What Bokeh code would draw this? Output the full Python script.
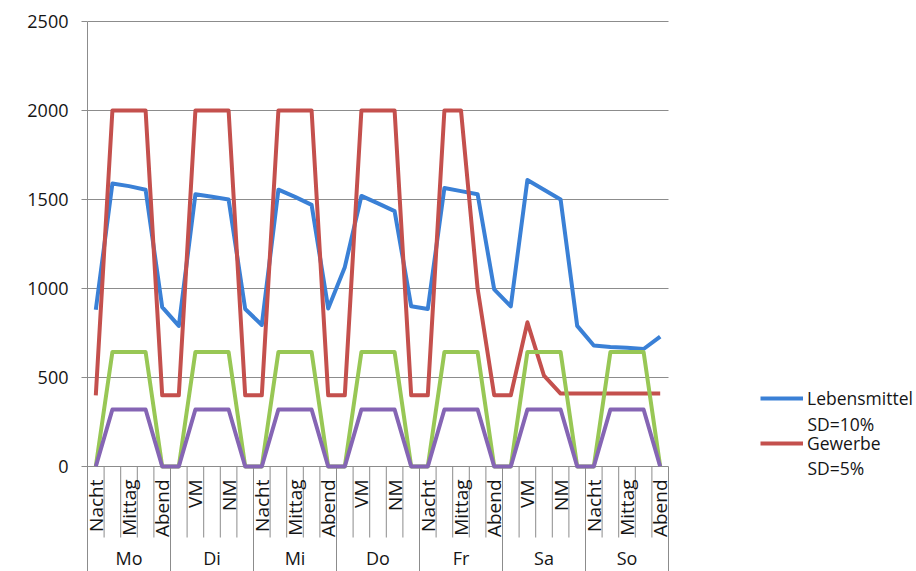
import numpy as np
from bokeh.plotting import figure
from bokeh.models import ColumnDataSource, FixedTicker, Legend, LegendItem, Range1d
from bokeh.core.properties import value
from bokeh.embed import file_html
from bokeh.resources import INLINE

# ---------------- data ----------------
days = ["Mo", "Di", "Mi", "Do", "Fr", "Sa", "So"]
slots = ["Nacht", "VM", "Mittag", "NM", "Abend"]
y_ticks = [0, 500, 1000, 1500, 2000, 2500]

lebensmittel = [
    880, 1590, 1575, 1555, 895,
    790, 1530, 1515, 1500, 885,
    795, 1555, 1515, 1470, 888,
    1120, 1520, 1478, 1435, 900,
    885, 1565, 1547, 1530, 995,
    900, 1610, 1555, 1500, 790,
    680, 672, 667, 660, 730,
]
gewerbe = [
    400, 2000, 2000, 2000, 400,
    400, 2000, 2000, 2000, 400,
    400, 2000, 2000, 2000, 400,
    400, 2000, 2000, 2000, 400,
    400, 2000, 2000, 1000, 400,
    400, 810, 510, 410, 410,
    410, 410, 410, 410, 410,
]
serie3 = [
    0, 643, 643, 643, 0,
    0, 643, 643, 643, 0,
    0, 643, 643, 643, 0,
    0, 643, 643, 643, 0,
    0, 643, 643, 643, 0,
    0, 643, 643, 643, 0,
    0, 643, 643, 643, 0,
]
serie4 = [
    0, 320, 320, 320, 0,
    0, 320, 320, 320, 0,
    0, 320, 320, 320, 0,
    0, 320, 320, 320, 0,
    0, 320, 320, 320, 0,
    0, 320, 320, 320, 0,
    0, 320, 320, 320, 0,
]
legend_labels = ["Lebensmittel", "Gewerbe"]
legend_notes = ["SD=10%", "SD=5%"]

# ---------------- layout constants (pixels) ----------------
W, H = 916, 571
FRAME_L, FRAME_T = 87, 11
AXIS_R = 668
Y0_PX, YTOP_PX = 466, 21
FONT = "Open Sans"
GRID_C = "#8c8c8c"
TEXT_C = "#151515"

n = len(days) * len(slots)
slot_px = (AXIS_R - FRAME_L) / n
k = (y_ticks[-1] - y_ticks[0]) / (Y0_PX - YTOP_PX)
x_end = (W - FRAME_L) / slot_px
y_start = -(H - Y0_PX) * k
y_end = y_ticks[-1] + (YTOP_PX - FRAME_T) * k


def py(px):
    return (Y0_PX - px) * k


def px_x(px):
    return (px - FRAME_L) / slot_px


p = figure(width=W, height=H, output_backend="svg", toolbar_location=None,
           x_range=Range1d(0, x_end), y_range=Range1d(y_start, y_end),
           x_axis_location=None, min_border_left=FRAME_L, min_border_right=0,
           min_border_top=FRAME_T, min_border_bottom=0,
           outline_line_color=None, background_fill_color="white",
           border_fill_color="white")
p.xgrid.visible = False
p.ygrid.visible = False

yax = p.yaxis[0]
yax.ticker = FixedTicker(ticks=y_ticks)
yax.bounds = (y_start, y_ticks[-1])
yax.axis_line_color = GRID_C
yax.major_tick_line_color = GRID_C
yax.major_tick_out = 6
yax.major_tick_in = 0
yax.minor_tick_line_color = None
yax.major_label_text_font = FONT
yax.major_label_text_font_size = "18px"
yax.major_label_text_color = TEXT_C
yax.major_label_standoff = 13

# horizontal grid lines, limited to the category area
p.segment(x0=[0] * len(y_ticks), x1=[n] * len(y_ticks), y0=y_ticks, y1=y_ticks,
          line_color=GRID_C, line_width=1)

# category separators
inner = [i for i in range(1, n) if i % len(slots) != 0]
p.segment(x0=inner, x1=inner, y0=[0] * len(inner), y1=[py(537)] * len(inner),
          line_color=GRID_C, line_width=1)
day_b = [(d + 1) * len(slots) for d in range(len(days))]
p.segment(x0=day_b, x1=day_b, y0=[0] * len(day_b), y1=[y_start] * len(day_b),
          line_color=GRID_C, line_width=1)

# series
x = [i + 0.5 for i in range(n)]
src = ColumnDataSource(dict(x=x, a=lebensmittel, b=gewerbe, c=serie3, d=serie4))
r_a = p.line("x", "a", source=src, line_color="#3A80D6", line_width=4, line_join="round")
r_b = p.line("x", "b", source=src, line_color="#C4504D", line_width=4, line_join="round")
r_c = p.line("x", "c", source=src, line_color="#98C755", line_width=4, line_join="round")
r_d = p.line("x", "d", source=src, line_color="#8565B4", line_width=4, line_join="round")

# category labels (every second slot, as in the original)
lab_idx = list(range(0, n, 2))
p.text(x=[i + 0.5 for i in lab_idx], y=[py(479)] * len(lab_idx),
       text=[slots[i % len(slots)] for i in lab_idx], angle=np.pi / 2,
       text_align="right", text_baseline="middle", text_font=value(FONT),
       text_font_size="19px", text_color=TEXT_C)
p.text(x=[d * len(slots) + len(slots) / 2 for d in range(len(days))],
       y=[py(557)] * len(days), text=days, text_align="center",
       text_baseline="middle", text_font=value(FONT), text_font_size="18px",
       text_color=TEXT_C)

# legend
legend = Legend(items=[LegendItem(label=legend_labels[0], renderers=[r_a]),
                       LegendItem(label=legend_labels[1], renderers=[r_b])],
                location=(760 - FRAME_L, H - 455), orientation="vertical",
                padding=0, margin=0, spacing=21, glyph_width=43, glyph_height=20,
                label_height=20, label_standoff=4, border_line_color=None,
                background_fill_alpha=0, label_text_font=FONT,
                label_text_font_size="17.5px", label_text_color=TEXT_C)
p.add_layout(legend)
p.text(x=[px_x(807)] * 2, y=[py(423), py(467)], text=legend_notes,
       text_align="left", text_baseline="middle", text_font=value(FONT),
       text_font_size="17.5px", text_color=TEXT_C)

open("out.html", "w").write(file_html(p, INLINE))
